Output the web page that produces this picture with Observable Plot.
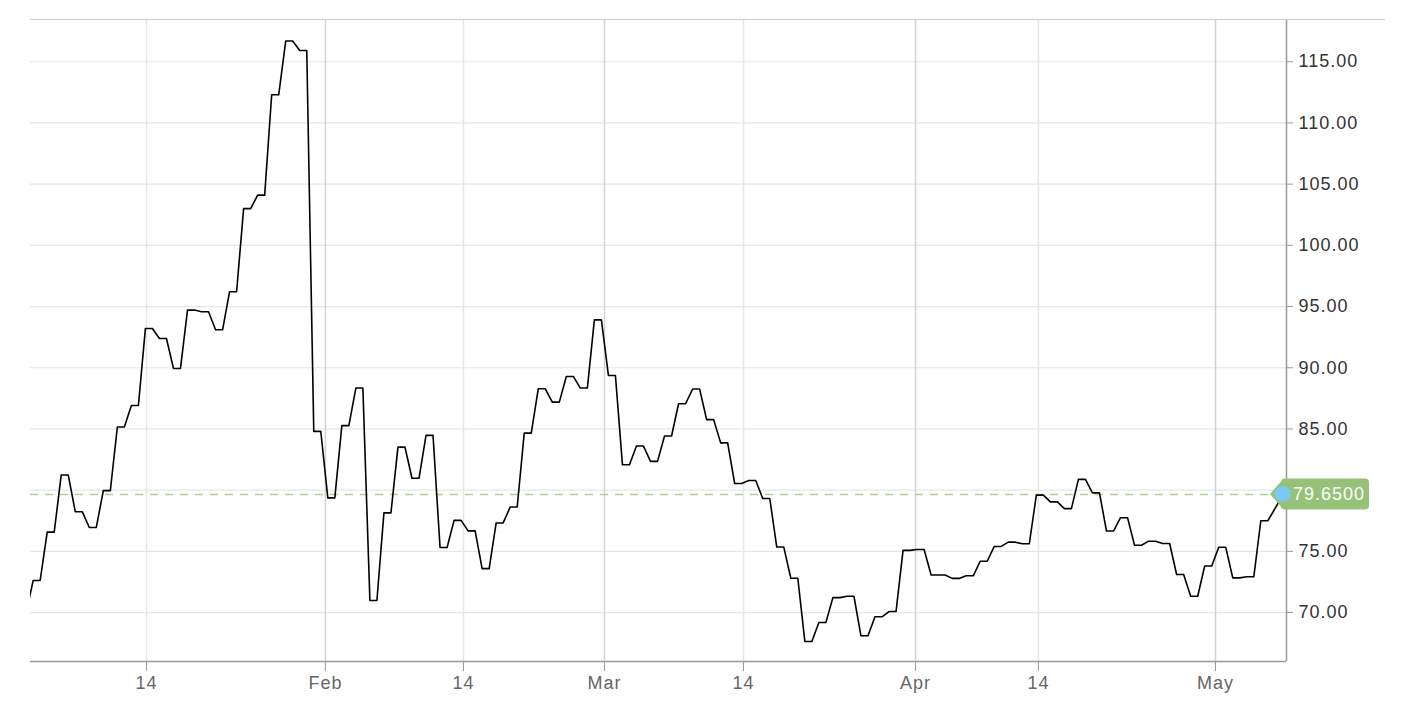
<!DOCTYPE html>
<html><head><meta charset="utf-8">
<script src="https://cdn.jsdelivr.net/npm/d3@7"></script>
<script src="https://cdn.jsdelivr.net/npm/@observablehq/plot@0.6"></script>
<style>
body{margin:0;background:#fff;font-family:"Liberation Sans",Arial,sans-serif}
#wrap{position:relative;width:1404px;height:710px}
#topline{position:absolute;left:30px;top:19px;width:1355px;height:0;border-top:1px solid #ccc}
#chart svg text{letter-spacing:1px}
</style>
</head><body><div id="wrap"><div id="chart"></div><div id="topline"></div></div>
<script>
// trading-day closing values (the first one is partly hidden at the left edge)
const firstIndex = -1;
const values = [
  70.0, 72.62, 76.57, 81.24, 78.24, 76.95, 79.96, 85.16, 86.91, 93.21,
  92.39, 89.94, 94.71, 94.57, 93.10, 96.21, 103.0, 104.1, 112.3, 116.69,
  115.92, 84.8, 79.37, 85.27, 88.34, 70.98, 78.14, 83.51, 80.97, 84.47,
  75.31, 77.53, 76.67, 73.59, 77.32, 78.62, 84.66, 88.28, 87.19, 89.29,
  88.34, 93.91, 89.37, 82.08, 83.60, 82.35, 84.42, 87.06, 88.26, 85.76,
  83.86, 80.54, 80.79, 79.32, 75.35, 72.80, 67.64, 69.19, 71.22, 71.33,
  68.10, 69.65, 70.08, 75.08, 75.15, 73.07, 72.79, 73.00, 74.19,
  75.40, 75.75, 75.62, 79.59, 79.04, 78.49, 80.88, 79.78, 76.66, 77.75,
  75.50, 75.83, 75.64, 73.11, 71.33, 73.80, 75.33, 72.83, 72.92, 77.50,
  79.65
];
const lastPrice = 79.65;
// one value is held half a session longer; the live quote sits a little further out
const longHoldAt = 65;      // array position of the longer hold
const longHoldExtra = 0.5;  // trading-day units
const liveQuoteGap = 1.6;   // trading-day units after the previous close
// x tick positions in trading-day units and their labels
const xTickPos = [8.08, 20.83, 30.67, 40.72, 50.63, 62.89, 71.65, 84.27];
const xTickLabels = ["14", "Feb", "14", "Mar", "14", "Apr", "14", "May"];
const monthTickPos = [20.83, 40.72, 62.89, 84.27];
const weekTickPos = [8.08, 30.67, 50.63, 71.65];
const yTicks = [70, 75, 80, 85, 90, 95, 100, 105, 110, 115];

const lineData = [];
let pos = firstIndex;
values.forEach((v, k) => {
  if (k === values.length - 1) { pos += liveQuoteGap - 1; lineData.push({x: pos, y: v}); return; }
  lineData.push({x: pos, y: v});
  lineData.push({x: pos + 0.5, y: v});
  if (k === longHoldAt) { lineData.push({x: pos + 0.5 + longHoldExtra, y: v}); pos += longHoldExtra; }
  pos += 1;
});
const lastPos = lineData[lineData.length - 1].x;
const labelMap = new Map(xTickPos.map((p, k) => [p, xTickLabels[k]]));
const xDomain = [-0.19, 89.33];
const yDomain = [66.0, 118.45];

const chart = Plot.plot({
  width: 1404, height: 710,
  marginLeft: 30, marginRight: 118, marginTop: 19, marginBottom: 49,
  style: {fontFamily: '"Liberation Sans", Arial, sans-serif', fontSize: "18px", background: "#fff"},
  x: {domain: xDomain, axis: null},
  y: {domain: yDomain, axis: null},
  marks: [
    Plot.gridY(yTicks, {stroke: "#e6e6e6", strokeOpacity: 1, strokeWidth: 1.2}),
    Plot.gridX(weekTickPos, {stroke: "#e6e6e6", strokeOpacity: 1, strokeWidth: 1.5}),
    Plot.gridX(monthTickPos, {stroke: "#d2d2d2", strokeOpacity: 1, strokeWidth: 1.5}),
    Plot.ruleY([lastPrice], {stroke: "#a9d293", strokeWidth: 1.5, strokeDasharray: "8,7"}),
    Plot.line(lineData, {x: "x", y: "y", stroke: "#000", strokeWidth: 1.6, clip: true}),
    Plot.ruleY([yDomain[0]], {stroke: "#999", strokeWidth: 1.5}),
    Plot.ruleX([xDomain[1]], {stroke: "#999", strokeWidth: 1.5}),
    Plot.axisX(xTickPos, {anchor: "bottom", label: null, tickSize: 10, tickPadding: 5, stroke: "#999",
      fill: "#666", fontSize: 18, tickFormat: d => labelMap.get(d)}),
    Plot.axisY(yTicks, {anchor: "right", label: null, tickSize: 6, tickPadding: 6, stroke: "#999",
      fill: "#333", fontSize: 18, tickFormat: d => d.toFixed(2)})
  ]
});
document.getElementById("chart").appendChild(chart);

// last-price callout, positioned through the chart's own scales
const sx = chart.scale("x"), sy = chart.scale("y");
const svg = d3.select(chart);
const ax = sx.apply(xDomain[1]);
const py = sy.apply(lastPrice);
const px = sx.apply(lastPos);
const g = svg.append("g");
const left = ax - 5, right = ax + 83, h = 31, r = 4;
g.append("path")
  .attr("d", `M${ax - 16},${py} L${left},${py - h/2 + 3} L${left},${py - h/2 + r} Q${left},${py - h/2} ${left + r},${py - h/2}
    L${right - r},${py - h/2} Q${right},${py - h/2} ${right},${py - h/2 + r}
    L${right},${py + h/2 - r} Q${right},${py + h/2} ${right - r},${py + h/2}
    L${left + r},${py + h/2} Q${left},${py + h/2} ${left},${py + h/2 - r} L${left},${py + h/2 - 3} Z`)
  .attr("fill", "#96c178");
g.append("circle").attr("cx", px).attr("cy", py).attr("r", 8).attr("fill", "#7cc8f4");
g.append("text").attr("x", ax + 7).attr("y", py).attr("dy", "0.35em")
  .attr("text-anchor", "start")
  .attr("fill", "#fff").attr("font-size", 18)
  .attr("font-family", '"Liberation Sans", Arial, sans-serif')
  .text(lastPrice.toFixed(4));
</script>
</body></html>
